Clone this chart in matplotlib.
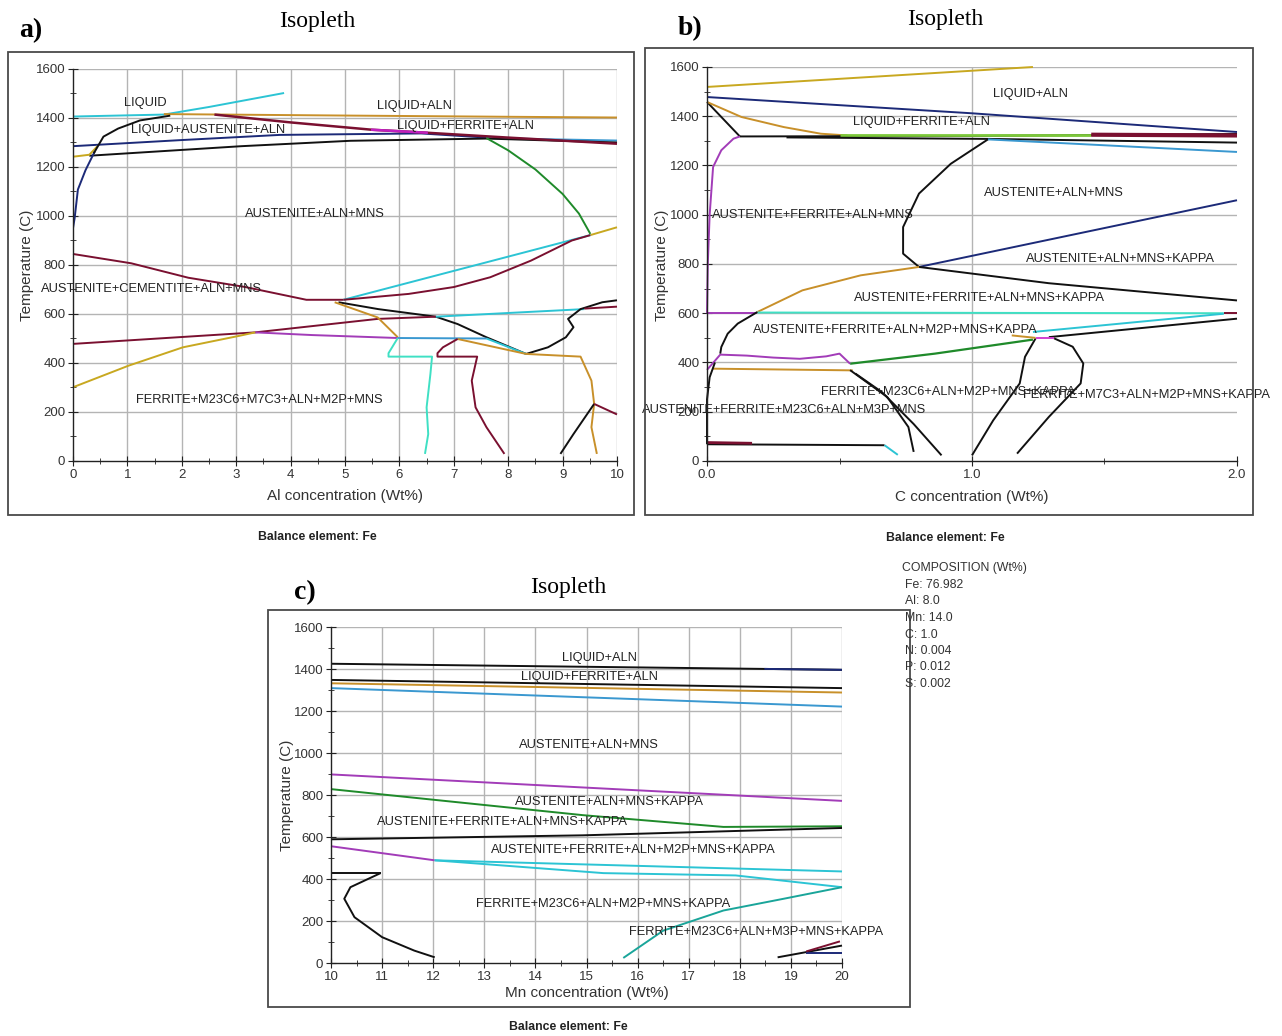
import matplotlib
matplotlib.use("Agg")
import matplotlib.pyplot as plt
from matplotlib.patches import Rectangle

plt.rcParams['font.family'] = ['Liberation Sans', 'DejaVu Sans']

W, H = 1282, 1036

# ---------------- (a) Al section ----------------
a_cyan_top = ([0, 1.67, 2.5, 3.88], [1406, 1414, 1445, 1502])
a_orange_top = ([1.67, 5, 8, 10], [1416, 1410, 1405, 1402])
a_red_top = ([2.6, 4, 5.5, 6.5, 8, 10], [1414, 1382, 1352, 1340, 1320, 1295])
a_navy_upper = ([0, 2, 3.8, 6.4, 7.6], [1285, 1310, 1331, 1337, 1320])
a_blue_upper = ([7.6, 10], [1318, 1308])
a_black_lower = ([0.3, 3.1, 5.1, 7.6, 10], [1246, 1285, 1307, 1316, 1300])
a_orange_small = ([0, 0.3, 0.45], [1242, 1250, 1285])
a_liquidus = ([0, 0, 0.03, 0.09, 0.23, 0.39, 0.56, 0.83, 1.23, 1.77],
              [840, 950, 991, 1108, 1187, 1259, 1324, 1357, 1390, 1409])
a_green = ([7.6, 8.0, 8.5, 9.0, 9.3, 9.51], [1318, 1268, 1190, 1090, 1010, 927])
a_orange_right = ([9.51, 10], [922, 954])
a_cyan_mid = ([4.97, 9.51], [658, 922])
a_red_mid = ([4.97, 6.17, 7.0, 7.67, 8.42, 9.17, 9.51], [658, 682, 710, 750, 818, 900, 922])
a_red_left = ([0, 1.07, 2.12, 3.17, 4.29, 4.97], [845, 807, 748, 710, 658, 658])
a_black_desc = ([4.88, 5.61, 6.67, 7.07, 7.6, 8.33], [648, 620, 589, 559, 505, 437])
a_red_low = ([0, 3.35, 5.6, 6.67], [478, 525, 580, 589])
a_cyan_low = ([6.67, 9.4], [589, 620])
a_black_right = ([8.33, 8.73, 9.06, 9.2, 9.1, 9.33, 9.73, 10],
                 [437, 464, 505, 546, 580, 620, 648, 656])
a_red_right = ([9.4, 10], [622, 630])
a_orange_v = ([4.81, 5.6, 5.97], [648, 586, 505])
a_purple = ([3.35, 4.4, 5.97], [525, 514, 502])
a_blue_500 = ([5.97, 7.6], [502, 500])
a_cyan_desc = ([7.6, 8.33], [500, 437])
a_orange_low = ([7.07, 8.33, 9.33, 9.53, 9.58, 9.53, 9.63], [498, 437, 426, 328, 233, 138, 29])
a_black_br = ([8.96, 9.2, 9.58], [29, 110, 233])
a_red_br = ([9.58, 10], [233, 190])
a_orange_curve = ([0, 1.02, 2.02, 3.08, 3.35], [301, 389, 464, 512, 525])
a_turq = ([5.97, 5.8, 5.8, 6.6, 6.57, 6.5, 6.53, 6.47], [502, 440, 426, 426, 355, 219, 110, 29])
a_red_v = ([7.07, 6.8, 6.7, 6.7, 7.43, 7.33, 7.4, 7.6, 7.93],
           [498, 464, 440, 426, 426, 328, 219, 138, 29])

a_labels = ["LIQUID", "LIQUID+ALN", "LIQUID+AUSTENITE+ALN", "LIQUID+FERRITE+ALN",
            "AUSTENITE+ALN+MNS", "AUSTENITE+CEMENTITE+ALN+MNS",
            "FERRITE+M23C6+M7C3+ALN+M2P+MNS"]
a_label_x = [1.33, 6.28, 2.49, 7.22, 4.44, 1.44, 3.43]
a_label_t = [1461, 1448, 1351, 1369, 1009, 703, 247]

# ---------------- (b) C section ----------------
b_yellow = ([0, 1.23], [1519, 1600])
b_navy_top = ([0, 1.0, 2.0], [1478, 1412, 1336])
b_black_v = ([0, 0.124], [1458, 1318])
b_orange_top = ([0, 0.13, 0.29, 0.43, 0.53], [1458, 1397, 1356, 1329, 1322])
b_black_1320 = ([0.124, 1.0, 2.0], [1318, 1320, 1328])
b_green_1320 = ([0.5, 1.45], [1322, 1322])
b_darkred_1325 = ([1.45, 2.0], [1325, 1322])
b_black_lower = ([0.3, 1.06, 2.0], [1314, 1308, 1293])
b_cyan_desc = ([1.06, 2.0], [1306, 1255])
b_purple_left = ([0, 0.003, 0.01, 0.023, 0.054, 0.1, 0.124], [600, 800, 1000, 1194, 1262, 1309, 1318])
b_s_curve = ([1.06, 0.92, 0.8, 0.74, 0.74, 0.8], [1306, 1207, 1086, 950, 842, 788])
b_navy_rise = ([0.8, 2.0], [788, 1059])
b_black_fall = ([0.8, 1.29, 2.0], [788, 722, 652])
b_orange_mid = ([0.19, 0.36, 0.58, 0.8], [605, 693, 754, 788])
b_purple_600 = ([0, 0.19], [600, 600])
b_cyan_600 = ([0.19, 1.95], [603, 600])
b_red_600 = ([1.95, 2.0], [600, 600])
b_cyan_rise = ([1.23, 1.95], [524, 598])
b_black_rise = ([1.29, 2.0], [503, 578])
b_green_low = ([0.54, 0.86, 1.23], [395, 436, 493])
b_purple_425 = ([0.0, 0.05, 0.15, 0.25, 0.35, 0.45, 0.5, 0.54],
                [370, 432, 428, 420, 415, 425, 436, 395])
b_orange_370 = ([0.02, 0.55], [375, 368])
b_black_upleft = ([0.05, 0.054, 0.078, 0.116, 0.19], [436, 463, 517, 558, 605])
b_black_x0 = ([0.03, 0.01, 0, 0], [400, 340, 250, 68])
b_black_bottom = ([0, 0.67], [68, 64])
b_red_bottom = ([0, 0.17], [75, 72])
b_cyan_bottom = ([0.67, 0.72], [64, 25])
b_black_c1 = ([0.54, 0.68, 0.76, 0.78], [369, 260, 138, 37])
b_black_c2 = ([0.56, 0.66, 0.78, 0.885], [355, 280, 150, 23])
b_black_c3 = ([1.0, 1.08, 1.18, 1.2, 1.24], [23, 165, 315, 423, 498])
b_black_c4 = ([1.17, 1.29, 1.41, 1.42, 1.38, 1.31], [30, 179, 315, 396, 464, 498])
b_magenta_500 = ([1.24, 1.31], [500, 500])
b_orange_500 = ([1.15, 1.24], [510, 500])

b_labels = ["LIQUID+ALN", "LIQUID+FERRITE+ALN", "AUSTENITE+ALN+MNS",
            "AUSTENITE+FERRITE+ALN+MNS", "AUSTENITE+ALN+MNS+KAPPA",
            "AUSTENITE+FERRITE+ALN+MNS+KAPPA", "AUSTENITE+FERRITE+ALN+M2P+MNS+KAPPA",
            "FERRITE+M23C6+ALN+M2P+MNS+KAPPA", "FERRITE+M7C3+ALN+M2P+MNS+KAPPA",
            "AUSTENITE+FERRITE+M23C6+ALN+M3P+MNS"]
b_label_x = [1.22, 0.81, 1.31, 0.40, 1.56, 1.03, 0.71, 0.91, 1.66, 0.29]
b_label_t = [1489, 1377, 1088, 998, 822, 662, 533, 280, 267, 206]

# ---------------- (c) Mn section ----------------
c_black_1 = ([10, 20], [1425, 1396])
c_black_2 = ([10, 20], [1348, 1309])
c_orange = ([10, 20], [1332, 1288])
c_blue = ([10, 20], [1309, 1221])
c_magenta = ([10, 20], [898, 772])
c_green = ([10, 12.1, 14.93, 17.68, 20], [828, 775, 704, 648, 651])
c_black_3 = ([10, 14.93, 20], [589, 608, 643])
c_magenta_low = ([10, 12.03], [556, 489])
c_cyan_up = ([12.03, 20], [489, 436])
c_cyan_low = ([12.03, 15.33, 17.92, 20], [489, 428, 417, 361])
c_teal = ([15.72, 16.5, 17.68, 18.86, 20], [24, 154, 250, 306, 361])
c_black_h = ([10, 10.97], [428, 428])
c_black_curve = ([10.97, 10.38, 10.26, 10.46, 11.0, 11.63, 12.03], [428, 361, 306, 218, 123, 59, 27])
c_black_br = ([18.74, 20], [27, 83])
c_navy_br = ([19.3, 20], [50, 50])
c_red_br = ([19.3, 19.96], [55, 103])

c_labels = ["LIQUID+ALN", "LIQUID+FERRITE+ALN", "AUSTENITE+ALN+MNS",
            "AUSTENITE+ALN+MNS+KAPPA", "AUSTENITE+FERRITE+ALN+MNS+KAPPA",
            "AUSTENITE+FERRITE+ALN+M2P+MNS+KAPPA", "FERRITE+M23C6+ALN+M2P+MNS+KAPPA",
            "FERRITE+M23C6+ALN+M3P+MNS+KAPPA"]
c_label_x = [15.25, 15.05, 15.05, 15.44, 13.36, 15.92, 15.33, 18.31]
c_label_t = [1452, 1361, 1038, 767, 672, 540, 282, 146]

composition = ["Fe: 76.982", "Al: 8.0", "Mn: 14.0", "C: 1.0",
               "N: 0.004", "P: 0.012", "S: 0.002"]

# colours used by the phase boundaries
NAVY = '#1c2a78'
BLACK = '#111111'
DRED = '#7a1030'
ORANGE = '#c8902a'
YELLOW = '#c8a820'
CYAN = '#2cc4d4'
LBLUE = '#3a98d0'
GREEN = '#1f8a2a'
LGREEN = '#7cc83a'
PURPLE = '#a23cb8'
TURQ = '#3fe0c4'
TEAL = '#1aa59a'
LW = 1.4
SERIF = ['Liberation Serif', 'DejaVu Serif']

fig = plt.figure(figsize=(W / 100, H / 100), dpi=100)


def px_axes(l, t, r, b):
    return fig.add_axes([l / W, 1 - b / H, (r - l) / W, (b - t) / H])


def frame(l, t, r, b):
    fig.patches.append(Rectangle((l / W, 1 - b / H), (r - l) / W, (b - t) / H,
                                 transform=fig.transFigure, fill=False,
                                 edgecolor='#4a4a4a', lw=1.3))


def ftext(x, y, s, **kw):
    fig.text(x / W, 1 - y / H, s, **kw)


def setup(ax, xlim, xmajor, xminor, xgrid, xticklabels):
    ax.set_xlim(*xlim)
    ax.set_ylim(0, 1600)
    for s in ['top', 'right']:
        ax.spines[s].set_visible(False)
    for s in ['left', 'bottom']:
        ax.spines[s].set_color('#222222')
        ax.spines[s].set_linewidth(1.0)
    ax.set_xticks(xmajor)
    ax.set_xticklabels(xticklabels)
    ax.set_xticks(xminor, minor=True)
    ax.set_yticks(range(0, 1601, 200))
    ax.set_yticks(range(100, 1600, 200), minor=True)
    ax.tick_params(which='both', direction='inout', colors='#222222',
                   labelsize=9.5, labelcolor='#333333', pad=2)
    ax.tick_params(which='major', length=7)
    ax.tick_params(which='minor', length=5)
    for g in xgrid:
        ax.axvline(g, color='#b4b4b4', lw=1.0, zorder=0)
    for g in range(200, 1601, 200):
        ax.axhline(g, color='#b4b4b4', lw=1.0, zorder=0)
    ax.patch.set_alpha(0)


def line(ax, curve, color, lw=LW):
    ax.plot(curve[0], curve[1], color=color, lw=lw, solid_capstyle='butt', clip_on=False)


def labels(ax, names, xs, ts):
    for s, x, t in zip(names, xs, ts):
        ax.text(x, t, s, ha='center', va='center', fontsize=9.3, color='#222222', zorder=5)


def panel_text(cx, ylab_x, ylab_y, xlab_y, xlab, tx, ty, tag, tag_x, tag_y, bal_y):
    ftext(ylab_x, ylab_y, "Temperature (C)", rotation=90, ha='center', va='center',
          fontsize=11, color='#333333')
    ftext(cx, xlab_y, xlab, ha='center', va='center', fontsize=11, color='#333333')
    ftext(tx, ty, "Isopleth", ha='center', va='center', fontsize=17, family=SERIF)
    ftext(tag_x, tag_y, tag, ha='center', va='center', fontsize=20, fontweight='bold',
          family=SERIF)
    ftext(tx, bal_y, "Balance element: Fe", ha='center', va='center', fontsize=8.8,
          fontweight='bold', color='#222222')


# ---- panel a ----
ax = px_axes(73, 69, 617, 461)
setup(ax, (0, 10), range(0, 11), [i + 0.5 for i in range(10)], range(1, 11),
      [str(i) for i in range(11)])
line(ax, a_cyan_top, CYAN)
line(ax, a_orange_top, ORANGE)
line(ax, a_navy_upper, NAVY)
line(ax, a_blue_upper, LBLUE)
line(ax, a_black_lower, BLACK)
line(ax, a_red_top, DRED, 1.8)
ax.plot(a_red_top[0][2:4], a_red_top[1][2:4], color='#c020c0', lw=1.8)
line(ax, a_orange_small, YELLOW)
ax.plot(a_liquidus[0][:6], a_liquidus[1][:6], color=NAVY, lw=LW)
ax.plot(a_liquidus[0][5:], a_liquidus[1][5:], color=BLACK, lw=LW)
line(ax, a_green, GREEN)
line(ax, a_orange_right, YELLOW)
line(ax, a_cyan_mid, CYAN)
line(ax, a_red_mid, DRED)
line(ax, a_red_left, DRED)
line(ax, a_black_desc, BLACK)
line(ax, a_red_low, DRED)
line(ax, a_cyan_low, CYAN)
line(ax, a_black_right, BLACK)
line(ax, a_red_right, DRED)
line(ax, a_orange_v, ORANGE)
line(ax, a_purple, PURPLE)
line(ax, a_blue_500, LBLUE)
line(ax, a_cyan_desc, CYAN)
line(ax, a_orange_low, ORANGE)
line(ax, a_black_br, BLACK)
line(ax, a_red_br, DRED)
line(ax, a_orange_curve, YELLOW)
line(ax, a_turq, TURQ)
line(ax, a_red_v, DRED)
labels(ax, a_labels, a_label_x, a_label_t)
frame(8, 52, 634, 515)
panel_text(345, 27, 265, 496, "Al concentration (Wt%)", 317, 22, "a)", 31, 31, 537)

# ---- panel b ----
ax = px_axes(707, 67, 1237, 461)
setup(ax, (0, 2.0), [0, 1.0, 2.0], [0.5, 1.5], [1.0], ["0.0", "1.0", "2.0"])
line(ax, b_yellow, YELLOW)
line(ax, b_navy_top, NAVY)
line(ax, b_black_v, BLACK)
line(ax, b_orange_top, ORANGE)
line(ax, b_black_1320, BLACK)
line(ax, b_green_1320, LGREEN, 2.0)
line(ax, b_darkred_1325, DRED, 3.0)
line(ax, b_black_lower, BLACK)
line(ax, b_cyan_desc, LBLUE)
line(ax, b_purple_left, PURPLE)
line(ax, b_s_curve, BLACK)
line(ax, b_navy_rise, NAVY)
line(ax, b_black_fall, BLACK)
line(ax, b_orange_mid, ORANGE)
line(ax, b_purple_600, PURPLE)
line(ax, b_cyan_600, TURQ)
line(ax, b_red_600, DRED)
line(ax, b_cyan_rise, CYAN)
line(ax, b_black_rise, BLACK)
line(ax, b_green_low, GREEN, 1.6)
line(ax, b_purple_425, PURPLE)
line(ax, b_orange_370, ORANGE)
line(ax, b_black_upleft, BLACK)
line(ax, b_black_x0, BLACK)
line(ax, b_black_bottom, BLACK)
line(ax, b_red_bottom, DRED, 2.0)
line(ax, b_cyan_bottom, CYAN)
line(ax, b_black_c1, BLACK)
line(ax, b_black_c2, BLACK)
line(ax, b_black_c3, BLACK)
line(ax, b_black_c4, BLACK)
line(ax, b_magenta_500, '#d040d0')
line(ax, b_orange_500, ORANGE)
labels(ax, b_labels, b_label_x, b_label_t)
frame(645, 48, 1253, 515)
panel_text(972, 662, 265, 497, "C concentration (Wt%)", 945, 20, "b)", 690, 29, 538)

# ---- panel c ----
ax = px_axes(331, 627, 842, 963)
setup(ax, (10, 20), range(10, 21), [i + 0.5 for i in range(10, 20)], range(11, 21),
      [str(i) for i in range(10, 21)])
line(ax, c_black_1, BLACK)
ax.plot([18.5, 20], [c_black_1[1][0] + (c_black_1[1][1] - c_black_1[1][0]) * 0.85, c_black_1[1][1]],
        color=NAVY, lw=LW)
line(ax, c_black_2, BLACK)
line(ax, c_orange, ORANGE)
line(ax, c_blue, LBLUE)
line(ax, c_magenta, PURPLE)
line(ax, c_green, GREEN)
line(ax, c_black_3, BLACK)
line(ax, c_magenta_low, PURPLE)
line(ax, c_cyan_up, CYAN)
line(ax, c_cyan_low, CYAN)
line(ax, c_teal, TEAL)
line(ax, c_black_h, BLACK)
line(ax, c_black_curve, BLACK)
line(ax, c_black_br, BLACK)
line(ax, c_navy_br, NAVY)
line(ax, c_red_br, DRED)
labels(ax, c_labels, c_label_x, c_label_t)
frame(268, 610, 910, 1007)
panel_text(587, 287, 795, 993, "Mn concentration (Wt%)", 568, 587, "c)", 305, 593, 1027)

# composition block
ftext(902, 568, "COMPOSITION (Wt%)", ha='left', va='center', fontsize=8.8, color='#333333')
for i, s in enumerate(composition):
    ftext(905, 585 + i * 16.5, s, ha='left', va='center', fontsize=8.8, color='#333333')

fig.savefig("out.png", dpi=100)
